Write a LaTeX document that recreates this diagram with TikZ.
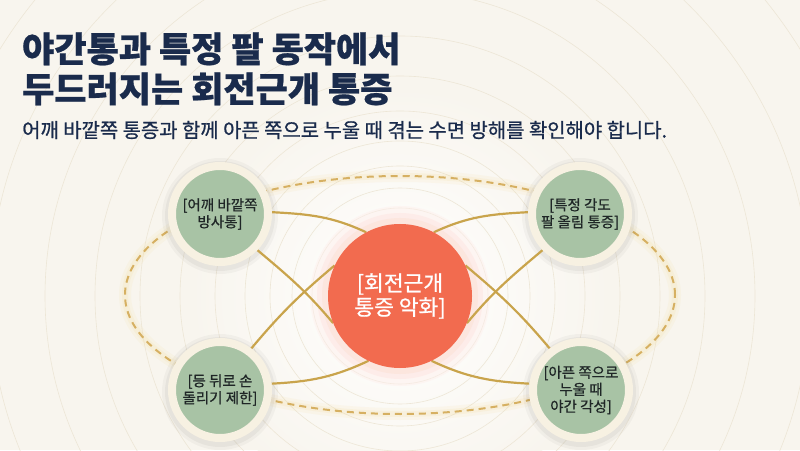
\documentclass[tikz,border=0pt]{standalone}
\usepackage{fontspec}
\setmainfont{Noto Sans CJK KR}
\newfontfamily\krmed{Noto Sans CJK KR}[FakeBold=0.8]
\newfontfamily\krheavy{Noto Sans CJK KR}[BoldFeatures={FakeBold=0.6}]
\usetikzlibrary{shadings}
\definecolor{bgc}{HTML}{F8F5EE}
\definecolor{ringc}{HTML}{EDE6D6}
\definecolor{navy}{HTML}{1A2B4C}
\definecolor{sage}{HTML}{A8C3A5}
\definecolor{cream}{HTML}{F7F1E2}
\definecolor{coral}{HTML}{F26B4F}
\definecolor{halo}{HTML}{FCE6DE}
\definecolor{goldl}{HTML}{C9A44C}
\definecolor{goldd}{HTML}{D6B062}
\definecolor{glowy}{HTML}{F3D88E}
\definecolor{inkc}{HTML}{1F2626}
\pgfdeclarelayer{bg}
\pgfdeclarelayer{conn}
\pgfsetlayers{bg,conn,main}
\tikzset{
  sidenode/.style={circle, fill=sage, draw=cream, line width=8pt, minimum size=96pt, inner sep=0pt,
    align=center, text=inkc, font=\krmed\fontsize{14.5}{17}\selectfont},
  hub/.style={circle, fill=coral, minimum size=144pt, inner sep=0pt, align=center, text=white,
    font=\krmed\fontsize{21.5}{24}\selectfont},
  link/.style={draw=goldl, line width=2.2pt},
  bgring/.style={draw=ringc, line width=0.6pt},
  titletext/.style={anchor=base west, inner sep=0pt, text=navy, font=\krheavy\fontsize{35}{40}\selectfont\bfseries},
}
\begin{document}
\begin{tikzpicture}[x=1pt,y=1pt]
\useasboundingbox (0,0) rectangle (800,450);
% nodes
\node[hub] (c) at (400,154) {[회전근개\\통증 악화]};
\node[sidenode] (tl) at (220,236) {[어깨 바깥쪽\\방사통]};
\node[sidenode] (tr) at (580,236) {[특정 각도\\팔 올림 통증]};
\node[sidenode] (bl) at (220,60) {[등 뒤로 손\\돌리기 제한]};
\node[sidenode] (br) at (581,60) {[아픈 쪽으로\\누울 때\\야간 각성]};
% titles
\node[titletext] (t1) at (22,388) {야간통과 특정 팔 동작에서};
\node[titletext] (t2) at (22,348) {두드러지는 회전근개 통증};
\node[anchor=base west, inner sep=0pt, text=navy, font=\krmed\fontsize{19.9}{22}\selectfont] (sub) at (22,312.5) {어깨 바깥쪽 통증과 함께 아픈 쪽으로 누울 때 겪는 수면 방해를 확인해야 합니다.};
% background
\begin{pgfonlayer}{bg}
  \fill[bgc] (0,0) rectangle (800,450);
  \shade[inner color=white, outer color=bgc] (400,154) circle (210);
  \foreach \r in {88,108,130,155,185,220,260,305,355,410,470,535}
    \draw[bgring] (400,154) circle (\r);
  % dashed orbit with glow
  \draw[glowy, opacity=0.10, line width=12pt] (400,155) ellipse (275 and 119);
  \draw[glowy, opacity=0.15, line width=6pt] (400,155) ellipse (275 and 119);
  \draw[goldd, line width=2pt, dash pattern=on 7pt off 5pt] (400,155) ellipse (275 and 119);
  % halo of hub
  \fill[coral!10, opacity=0.5] (400,154) circle (90);
  \fill[coral!16, opacity=0.6] (400,154) circle (83);
  \fill[halo] (400,154) circle (78);
  % soft shadows of side nodes
  \foreach \p in {(220,236),(580,236),(220,60),(581,60)}{
    \fill[black, opacity=0.03] \p ++(0,-2) circle (58);
    \fill[black, opacity=0.04] \p ++(0,-2) circle (55);}
\end{pgfonlayer}
% connectors
\begin{pgfonlayer}{conn}
  \draw[link] (tl.2) to[out=-3, in=155] (c.118);
  \draw[link] (tl.-44) to[out=-40, in=130] (c.202);
  \draw[link] (bl.53) to[out=50, in=-140] (c.155);
  \draw[link] (bl.7) to[out=3, in=205] (c.244);
  \draw[link] (tr.178) to[out=183, in=25] (c.62);
  \draw[link] (tr.224) to[out=220, in=50] (c.338);
  \draw[link] (br.127) to[out=130, in=-40] (c.25);
  \draw[link] (br.173) to[out=177, in=-25] (c.296);
\end{pgfonlayer}
\end{tikzpicture}
\end{document}
